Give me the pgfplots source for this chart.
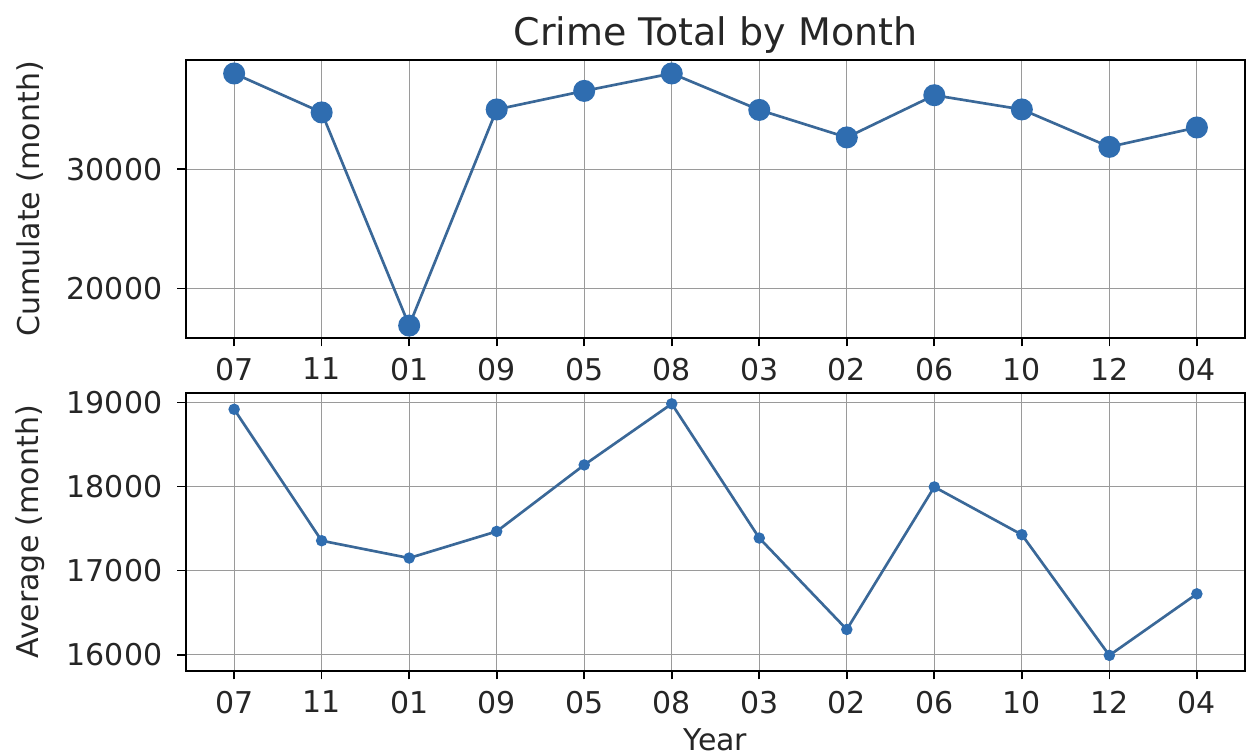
\documentclass[border=0pt]{standalone}
\usepackage{fontspec}
\setmainfont{DejaVu Sans}
\usepackage{pgfplots}
\pgfplotsset{compat=1.18}

\definecolor{lineblue}{HTML}{3A6898}
\definecolor{markblue}{HTML}{2F6DB0}
\definecolor{gridgray}{HTML}{9A9A9A}

% month order as it appears on both axes
\def\monthlabels{07,11,01,09,05,08,03,02,06,10,12,04}

\pgfplotsset{
  crimeaxis/.style={
    scale only axis,
    width=317.7pt,
    height=83.2pt,
    xmin=-0.55, xmax=11.55,
    xtick={0,...,11},
    xticklabels/.expand once={\monthlabels},
    grid=major,
    major grid style={draw=gridgray, line width=0.35pt},
    axis line style={line width=0.6pt, black},
    tick align=outside,
    major tick length=2.6pt,
    tick style={line width=0.5pt, black},
    xtick pos=bottom, ytick pos=left,
    tick label style={font=\fontsize{9}{10}\selectfont, text=black!85},
    label style={font=\fontsize{9}{10}\selectfont, text=black!85},
    /pgf/number format/assume math mode=true,
    /pgf/number format/1000 sep={},
    scaled y ticks=false,
    xticklabel style={yshift=0pt},
    yticklabel style={xshift=-1pt},
    ylabel style={at={(axis description cs:-0.1473,0.5)}, anchor=center},
  },
}

\begin{document}
\begin{tikzpicture}
\useasboundingbox (-55.8pt,-124.9pt) rectangle (320.7pt,101.3pt);

% monthly totals
\begin{axis}[
  crimeaxis,
  name=top,
  at={(0,0)}, anchor=south west,
  ymin=15900, ymax=39100,
  ytick={20000,30000},
  ylabel={Cumulate (month)},
  title={Crime Total by Month},
  title style={font=\fontsize{11.4}{13}\selectfont, text=black!85, yshift=-7.5pt},
]
\addplot[color=lineblue, line width=0.8pt, mark=*,
  mark size=2.9pt, mark options={fill=markblue, draw=markblue}]
  table[x=idx, y=val] {
  idx val
  0  38000
  1  34740
  2  16910
  3  34990
  4  36540
  5  38000
  6  34950
  7  32650
  8  36180
  9  34990
  10 31860
  11 33480
};
\end{axis}

% monthly averages
\begin{axis}[
  crimeaxis,
  at={(0,-16.7pt)}, anchor=north west,
  ymin=15810, ymax=19110,
  ytick={16000,17000,18000,19000},
  ylabel={Average (month)},
  xlabel={Year},
  xlabel style={at={(axis description cs:0.5,0)}, yshift=-14pt, anchor=north},
]
\addplot[color=lineblue, line width=0.8pt, mark=*,
  mark size=1.3pt, mark options={fill=markblue, draw=markblue}]
  table[x=idx, y=val] {
  idx val
  0  18920
  1  17356
  2  17150
  3  17467
  4  18258
  5  18985
  6  17388
  7  16300
  8  17996
  9  17428
  10 15992
  11 16724
};
\end{axis}
\end{tikzpicture}
\end{document}
